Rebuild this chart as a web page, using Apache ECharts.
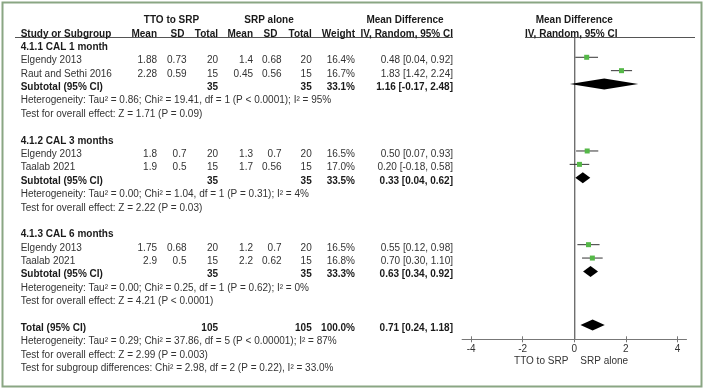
<!DOCTYPE html>
<html><head><meta charset="utf-8">
<script src="https://cdn.jsdelivr.net/npm/echarts@6/dist/echarts.min.js"></script>
<style>html,body{margin:0;padding:0;background:#fff}#c{width:705px;height:390px}</style>
</head><body><div id="c"></div>
<script>
// ---- data ----
const groupTitles = ['4.1.1 CAL 1 month', '4.1.2 CAL 3 months', '4.1.3 CAL 6 months'];
const groupRows = [0, 7, 14];
const studyNames = ['Elgendy 2013', 'Raut and Sethi 2016', 'Elgendy 2013', 'Taalab 2021', 'Elgendy 2013', 'Taalab 2021'];
const studyRows = [1, 2, 8, 9, 15, 16];
const ttoMean = ['1.88', '2.28', '1.8', '1.9', '1.75', '2.9'];
const ttoSD = ['0.73', '0.59', '0.7', '0.5', '0.68', '0.5'];
const ttoN = [20, 15, 20, 15, 20, 15];
const srpMean = ['1.4', '0.45', '1.3', '1.7', '1.2', '2.2'];
const srpSD = ['0.68', '0.56', '0.7', '0.56', '0.7', '0.62'];
const srpN = [20, 15, 20, 15, 20, 15];
const studyWeight = ['16.4%', '16.7%', '16.5%', '17.0%', '16.5%', '16.8%'];
const studyMD = [0.48, 1.83, 0.50, 0.20, 0.55, 0.70];
const studyLo = [0.04, 1.42, 0.07, -0.18, 0.12, 0.30];
const studyHi = [0.92, 2.24, 0.93, 0.58, 0.98, 1.10];

const subRows = [3, 10, 17];
const subTtoN = [35, 35, 35];
const subSrpN = [35, 35, 35];
const subWeight = ['33.1%', '33.5%', '33.3%'];
const subMD = [1.16, 0.33, 0.63];
const subLo = [-0.17, 0.04, 0.34];
const subHi = [2.48, 0.62, 0.92];
const hetRows = [4, 11, 18];
const hetText = [
  'Heterogeneity: Tau\u00b2 = 0.86; Chi\u00b2 = 19.41, df = 1 (P < 0.0001); I\u00b2 = 95%',
  'Heterogeneity: Tau\u00b2 = 0.00; Chi\u00b2 = 1.04, df = 1 (P = 0.31); I\u00b2 = 4%',
  'Heterogeneity: Tau\u00b2 = 0.00; Chi\u00b2 = 0.25, df = 1 (P = 0.62); I\u00b2 = 0%'
];
const effRows = [5, 12, 19];
const effText = [
  'Test for overall effect: Z = 1.71 (P = 0.09)',
  'Test for overall effect: Z = 2.22 (P = 0.03)',
  'Test for overall effect: Z = 4.21 (P < 0.0001)'
];
const totalRow = 21;
const totalTtoN = 105, totalSrpN = 105, totalWeight = '100.0%';
const totalMD = 0.71, totalLo = 0.24, totalHi = 1.18;
const footerRows = [22, 23, 24];
const footerText = [
  'Heterogeneity: Tau\u00b2 = 0.29; Chi\u00b2 = 37.86, df = 5 (P < 0.00001); I\u00b2 = 87%',
  'Test for overall effect: Z = 2.99 (P = 0.003)',
  'Test for subgroup differences: Chi\u00b2 = 2.98, df = 2 (P = 0.22), I\u00b2 = 33.0%'
];
const xTicks = [-4, -2, 0, 2, 4];
const nullEffect = 0;
const favourLeft = 'TTO to SRP', favourRight = 'SRP alone';

// ---- layout ----
const FONT = 'Liberation Sans, Arial, sans-serif';
const FS = 10;
const ROW0 = 43.9, ROWH = 13.385, TXT_OFF = 3.3;
const ty = r => ROW0 + ROWH * r + TXT_OFF;
const COL = { name: 20.7, tMean: 157, tSD: 186.5, tN: 218, sMean: 253, sSD: 281.5, sN: 311.7, w: 355, ci: 453 };
const GRID = { left: 462.1, top: 38, width: 224.4, height: 301.3 };
const ZERO_X = GRID.left + GRID.width / 2;

const fmtCI = (m, l, h) => m.toFixed(2) + ' [' + l.toFixed(2) + ', ' + h.toFixed(2) + ']';

const g = [];
function txt(s, x, y, align, bold, color) {
  g.push({ type: 'text', x: x, y: y, silent: true,
    style: { text: String(s), x: 0, y: 0, align: align || 'left', verticalAlign: 'middle',
      font: (bold ? 'bold ' : '') + FS + 'px ' + FONT, fill: color || (bold ? '#1a1a1a' : '#333') } });
}
// border
g.push({ type: 'rect', shape: { x: 2.5, y: 2.5, width: 699, height: 384 }, style: { fill: 'none', stroke: '#8aa683', lineWidth: 2 }, silent: true });
// header lines
g.push({ type: 'line', shape: { x1: 15, y1: 37.5, x2: 453, y2: 37.5 }, style: { stroke: '#555', lineWidth: 1 }, silent: true });
g.push({ type: 'line', shape: { x1: 525, y1: 37.5, x2: 695, y2: 37.5 }, style: { stroke: '#555', lineWidth: 1 }, silent: true });

// header texts
txt('TTO to SRP', 171.5, ty(-2), 'center', true);
txt('SRP alone', 269, ty(-2), 'center', true);
txt('Mean Difference', 405, ty(-2), 'center', true);
txt('Mean Difference', ZERO_X, ty(-2), 'center', true);
txt('Study or Subgroup', COL.name, ty(-1), 'left', true);
txt('Mean', COL.tMean, ty(-1), 'right', true);
txt('SD', COL.tSD - 2, ty(-1), 'right', true);
txt('Total', COL.tN, ty(-1), 'right', true);
txt('Mean', COL.sMean, ty(-1), 'right', true);
txt('SD', COL.sSD - 4, ty(-1), 'right', true);
txt('Total', COL.sN, ty(-1), 'right', true);
txt('Weight', COL.w, ty(-1), 'right', true);
txt('IV, Random, 95% CI', COL.ci, ty(-1), 'right', true);
txt('IV, Random, 95% CI', ZERO_X - 3, ty(-1), 'center', true);

groupTitles.forEach((t, i) => txt(t, COL.name, ty(groupRows[i]), 'left', true));
studyNames.forEach((n, i) => {
  const y = ty(studyRows[i]);
  txt(n, COL.name, y, 'left');
  txt(ttoMean[i], COL.tMean, y, 'right');
  txt(ttoSD[i], COL.tSD, y, 'right');
  txt(ttoN[i], COL.tN, y, 'right');
  txt(srpMean[i], COL.sMean, y, 'right');
  txt(srpSD[i], COL.sSD, y, 'right');
  txt(srpN[i], COL.sN, y, 'right');
  txt(studyWeight[i], COL.w, y, 'right');
  txt(fmtCI(studyMD[i], studyLo[i], studyHi[i]), COL.ci, y, 'right');
});
subRows.forEach((r, i) => {
  const y = ty(r);
  txt('Subtotal (95% CI)', COL.name, y, 'left', true);
  txt(subTtoN[i], COL.tN, y, 'right', true);
  txt(subSrpN[i], COL.sN, y, 'right', true);
  txt(subWeight[i], COL.w, y, 'right', true);
  txt(fmtCI(subMD[i], subLo[i], subHi[i]), COL.ci, y, 'right', true);
  txt(hetText[i], COL.name, ty(hetRows[i]), 'left');
  txt(effText[i], COL.name, ty(effRows[i]), 'left');
});
txt('Total (95% CI)', COL.name, ty(totalRow), 'left', true);
txt(totalTtoN, COL.tN, ty(totalRow), 'right', true);
txt(totalSrpN, COL.sN, ty(totalRow), 'right', true);
txt(totalWeight, COL.w, ty(totalRow), 'right', true);
txt(fmtCI(totalMD, totalLo, totalHi), COL.ci, ty(totalRow), 'right', true);
footerText.forEach((t, i) => txt(t, COL.name, ty(footerRows[i]), 'left'));
txt(favourLeft, ZERO_X - 6, 361, 'right');
txt(favourRight, ZERO_X + 6, 361, 'left');

// ---- chart ----
const studyData = studyMD.map((m, i) => [m, studyLo[i], studyHi[i], studyRows[i]]);
const diamondData = subMD.map((m, i) => [m, subLo[i], subHi[i], subRows[i]]).concat([[totalMD, totalLo, totalHi, totalRow]]);
const yMin = (GRID.top - ROW0) / ROWH;
const yMax = (GRID.top + GRID.height - ROW0) / ROWH;
const axisColor = '#777';

const chart = echarts.init(document.getElementById('c'), null, { renderer: 'canvas' });
chart.setOption({
  animation: false,
  backgroundColor: '#fff',
  grid: { left: GRID.left, top: GRID.top, width: GRID.width, height: GRID.height, containLabel: false },
  xAxis: [
    { type: 'value', min: -4.35, max: 4.35, position: 'bottom',
      axisLine: { show: true, onZero: false, lineStyle: { color: axisColor, width: 1 } },
      axisTick: { show: true, customValues: xTicks, length: 3, inside: false, lineStyle: { color: axisColor } },
      axisLabel: { show: true, customValues: xTicks, margin: 5, color: '#333', fontSize: FS, fontFamily: FONT },
      splitLine: { show: false } },
    { type: 'value', min: -4.35, max: 4.35, position: 'top', offset: -GRID.height,
      axisLine: { show: false, onZero: false },
      axisTick: { show: true, customValues: xTicks, length: 3, inside: false, lineStyle: { color: axisColor } },
      axisLabel: { show: false }, splitLine: { show: false } }
  ],
  yAxis: { type: 'value', inverse: true, min: yMin, max: yMax, show: false, axisLine: { onZero: false } },
  series: [
    { type: 'custom', xAxisIndex: 0, data: studyData, encode: { x: [0, 1, 2], y: 3 }, silent: true, z: 3,
      renderItem: (params, api) => {
        const m = api.coord([api.value(0), api.value(3)]);
        const l = api.coord([api.value(1), api.value(3)]);
        const h = api.coord([api.value(2), api.value(3)]);
        const s = 5;
        return { type: 'group', children: [
          { type: 'line', shape: { x1: l[0], y1: m[1], x2: h[0], y2: m[1] }, style: { stroke: '#333', lineWidth: 1 } },
          { type: 'rect', shape: { x: m[0] - s / 2, y: m[1] - s / 2, width: s, height: s }, style: { fill: '#55b848' } }
        ] };
      } },
    { type: 'custom', xAxisIndex: 0, data: diamondData, encode: { x: [0, 1, 2], y: 3 }, silent: true, z: 3,
      renderItem: (params, api) => {
        const m = api.coord([api.value(0), api.value(3)]);
        const l = api.coord([api.value(1), api.value(3)]);
        const h = api.coord([api.value(2), api.value(3)]);
        const hh = 5.5;
        return { type: 'polygon', shape: { points: [[l[0], m[1]], [m[0], m[1] - hh], [h[0], m[1]], [m[0], m[1] + hh]] },
          style: { fill: '#000' } };
      } }
  ],
  graphic: g
});

// null-effect reference line, positioned through the chart's own x scale
const zx = chart.convertToPixel({ xAxisIndex: 0 }, nullEffect);
const zTop = chart.convertToPixel({ yAxisIndex: 0 }, yMin);
const zBot = chart.convertToPixel({ yAxisIndex: 0 }, yMax);
chart.setOption({ graphic: g.concat([{ type: 'rect', silent: true, z: 1,
  shape: { x: Math.floor(zx), y: Math.min(zTop, zBot), width: 1.4, height: Math.abs(zBot - zTop) },
  style: { fill: '#6f6f6f' } }]) });
</script></body></html>
